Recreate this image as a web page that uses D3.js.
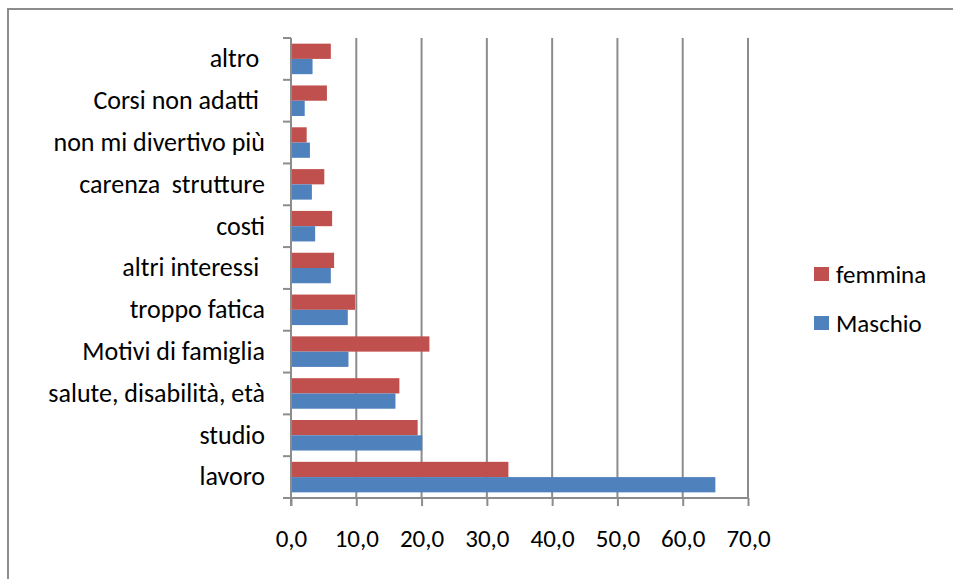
<!DOCTYPE html>
<html>
<head>
<meta charset="utf-8">
<script src="https://cdn.jsdelivr.net/npm/d3@7/dist/d3.min.js"></script>
<style>
  html, body { margin: 0; padding: 0; background: #fff; }
  svg text { font-family: Carlito, Calibri, Lato, "Open Sans", sans-serif; fill: #000; white-space: pre; }
</style>
</head>
<body>
<svg id="chart" width="953" height="579"></svg>
<script>
// Reasons for quitting, bottom to top as listed in the sheet
const categories = [
  "lavoro", "studio", "salute, disabilità, età", "Motivi di famiglia",
  "troppo fatica", "altri interessi ", "costi", "carenza  strutture",
  "non mi divertivo più", "Corsi non adatti ", "altro "
];
const maschio = [65.0, 20.1, 16.0, 8.8, 8.7, 6.1, 3.7, 3.2, 2.9, 2.1, 3.3];
const femmina = [33.3, 19.4, 16.6, 21.2, 9.8, 6.6, 6.3, 5.1, 2.4, 5.5, 6.1];
const xTicks = [0, 10, 20, 30, 40, 50, 60, 70];
const seriesNames = ["femmina", "Maschio"];
const seriesColors = { femmina: "#C0504D", Maschio: "#4F81BD" };

const FONT = 25;
const CAT_FONT = 26;
const svg = d3.select("#chart");

// outer chart frame
svg.append("rect")
  .attr("x", 8).attr("y", 9).attr("width", 960).attr("height", 600)
  .attr("fill", "none").attr("stroke", "#8c8c8c").attr("stroke-width", 2);

const plot = { left: 291, right: 748, top: 38, bottom: 498 };

const x = d3.scaleLinear().domain([0, 70]).range([plot.left, plot.right]);
const y = d3.scaleBand()
  .domain(categories.slice().reverse())
  .range([plot.top, plot.bottom])
  .paddingInner(0).paddingOuter(0);
const sub = d3.scaleBand()
  .domain(seriesNames)
  .range([0, y.bandwidth()])
  .paddingOuter(0.37).paddingInner(0);

// vertical gridlines
svg.append("g").selectAll("line")
  .data(xTicks.slice(1))
  .join("line")
  .attr("x1", d => x(d)).attr("x2", d => x(d))
  .attr("y1", plot.top).attr("y2", plot.bottom)
  .attr("stroke", "#8c8c8c").attr("stroke-width", 2);

// bars
const rows = categories.map((c, i) => ({ cat: c, femmina: femmina[i], Maschio: maschio[i] }));
const groups = svg.append("g").selectAll("g")
  .data(rows)
  .join("g")
  .attr("transform", d => `translate(0,${y(d.cat)})`);
groups.selectAll("rect")
  .data(d => seriesNames.map(s => ({ s, v: d[s] })))
  .join("rect")
  .attr("x", x(0))
  .attr("y", d => sub(d.s))
  .attr("width", d => x(d.v) - x(0))
  .attr("height", sub.bandwidth())
  .attr("fill", d => seriesColors[d.s]);

// x axis
const xAxis = d3.axisBottom(x)
  .tickValues(xTicks)
  .tickSize(8)
  .tickPadding(23)
  .tickFormat(d => d3.format(".1f")(d).replace(".", ","));
const gx = svg.append("g").attr("transform", `translate(0,${plot.bottom})`).call(xAxis);
gx.select(".domain").attr("d", `M${plot.left - 8},0H${plot.right}`)
  .attr("stroke", "#8c8c8c").attr("stroke-width", 2);
gx.selectAll(".tick line").attr("stroke", "#8c8c8c").attr("stroke-width", 2);
gx.selectAll(".tick text").attr("font-size", FONT).style("font-family", null);

// y axis
const yAxis = d3.axisLeft(y).tickSize(0).tickPadding(26);
const gy = svg.append("g").attr("transform", `translate(${plot.left},0)`).call(yAxis);
gy.select(".domain").attr("d", `M0,${plot.top}V${plot.bottom + 8}`)
  .attr("stroke", "#8c8c8c").attr("stroke-width", 2);
gy.selectAll(".tick text").attr("font-size", CAT_FONT).style("font-family", null);
// category boundary ticks
gy.append("g").selectAll("line")
  .data(d3.range(categories.length + 1))
  .join("line")
  .attr("x1", -8).attr("x2", 0)
  .attr("y1", i => plot.top + i * y.step())
  .attr("y2", i => plot.top + i * y.step())
  .attr("stroke", "#8c8c8c").attr("stroke-width", 2);

// legend
const legend = svg.append("g").selectAll("g")
  .data(seriesNames)
  .join("g")
  .attr("transform", (d, i) => `translate(814,${267 + i * 49})`);
legend.append("rect").attr("width", 15).attr("height", 14).attr("fill", d => seriesColors[d]);
legend.append("text").attr("x", 22).attr("y", 7).attr("dy", "0.35em")
  .attr("font-size", FONT).text(d => d);
</script>
</body>
</html>
